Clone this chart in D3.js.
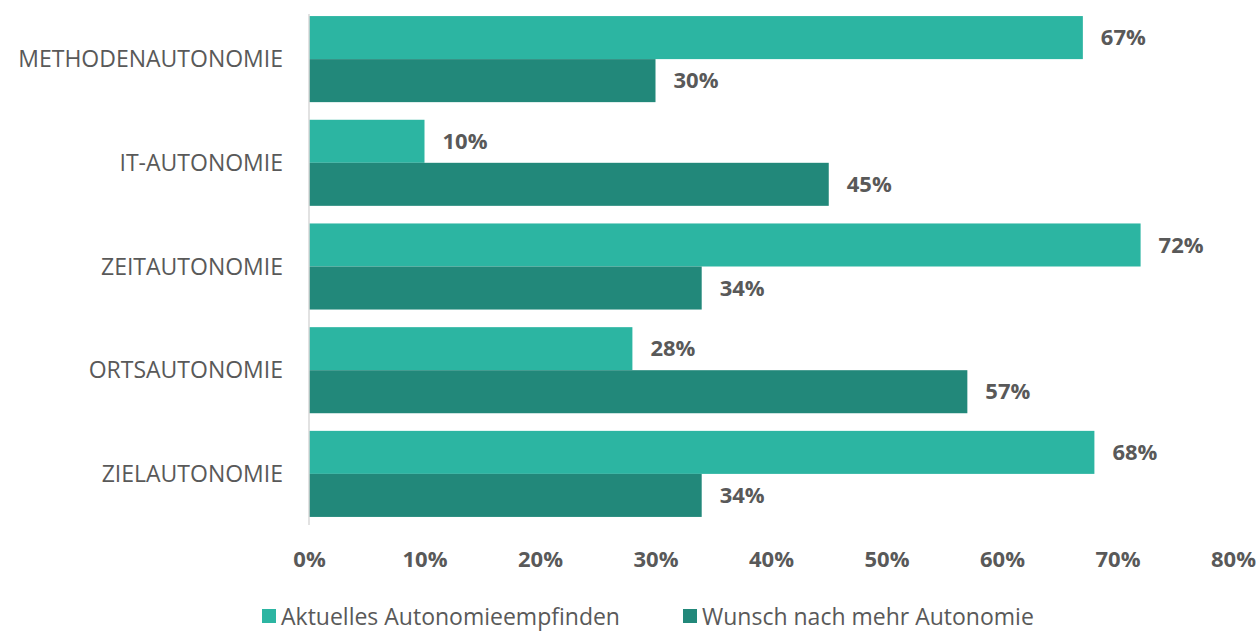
<!DOCTYPE html>
<html>
<head>
<meta charset="utf-8">
<script src="https://cdn.jsdelivr.net/npm/d3@7"></script>
<style>
  body { margin: 0; background: #fff; }
  text { font-family: "Open Sans", sans-serif; fill: #595959; }
</style>
</head>
<body>
<div id="chart"></div>
<script>
// data
const categories = ["METHODENAUTONOMIE", "IT-AUTONOMIE", "ZEITAUTONOMIE", "ORTSAUTONOMIE", "ZIELAUTONOMIE"];
const seriesNames = ["Aktuelles Autonomieempfinden", "Wunsch nach mehr Autonomie"];
const aktuell = [67, 10, 72, 28, 68];
const wunsch = [30, 45, 34, 57, 34];
const xTicks = [0, 10, 20, 30, 40, 50, 60, 70, 80];
const colors = ["#2cb5a2", "#22887a"];

let margin = {top: 14, right: 20, bottom: 113, left: 309},
    width = 1256 - margin.left - margin.right,
    height = 632 - margin.top - margin.bottom;

let svg = d3.select("#chart")
    .append("svg")
    .attr("width", 1256)
    .attr("height", 632)
    .append("g")
    .attr("transform", "translate(" + margin.left + "," + margin.top + ")");

let x = d3.scaleLinear().domain([0, 80]).range([0, 924]);
let y = d3.scaleBand().domain(categories).range([0, height]).paddingInner(0.17).paddingOuter(0.02);
let ySub = d3.scaleBand().domain([0, 1]).range([0, y.bandwidth()]);

let rows = categories.map(function(c, i) { return {cat: c, vals: [aktuell[i], wunsch[i]]}; });

let groups = svg.selectAll(".grp")
    .data(rows)
    .enter().append("g")
    .attr("transform", function(d) { return "translate(0," + y(d.cat) + ")"; });

groups.selectAll("rect")
    .data(function(d) { return d.vals; })
    .enter().append("rect")
    .attr("x", x(0))
    .attr("y", function(d, i) { return ySub(i); })
    .attr("width", function(d) { return x(d); })
    .attr("height", ySub.bandwidth())
    .attr("fill", function(d, i) { return colors[i]; });

groups.selectAll(".lbl")
    .data(function(d) { return d.vals; })
    .enter().append("text")
    .attr("x", function(d) { return x(d) + 18; })
    .attr("y", function(d, i) { return ySub(i) + ySub.bandwidth() / 2; })
    .attr("dy", "0.35em")
    .style("font-size", "22px")
    .style("font-weight", "bold")
    .text(function(d) { return d + "%"; });

// vertical axis line + category labels
svg.append("line")
    .attr("x1", 0).attr("x2", 0)
    .attr("y1", 0).attr("y2", height + 6)
    .attr("stroke", "#d9d9d9").attr("stroke-width", 1.5);

svg.selectAll(".cat")
    .data(categories)
    .enter().append("text")
    .attr("x", -26)
    .attr("y", function(d) { return y(d) + y.bandwidth() / 2; })
    .attr("dy", "0.35em")
    .attr("text-anchor", "end")
    .style("font-size", "23px")
    .text(function(d) { return d; });

// x axis
let xAxis = svg.append("g")
    .attr("transform", "translate(0," + (height + 6) + ")")
    .call(d3.axisBottom(x).tickValues(xTicks).tickSize(0).tickPadding(26).tickFormat(function(d) { return d + "%"; }));
xAxis.select(".domain").remove();
xAxis.selectAll("text")
    .style("font-family", "Open Sans, sans-serif")
    .style("font-size", "22px")
    .style("font-weight", "bold")
    .attr("fill", "#595959");

// legend
let legend = d3.select("svg").append("g").attr("transform", "translate(262,617)");
let legendX = [0, 421];
seriesNames.forEach(function(name, i) {
    legend.append("rect")
        .attr("x", legendX[i]).attr("y", -8)
        .attr("width", 14).attr("height", 14)
        .attr("fill", colors[i]);
    legend.append("text")
        .attr("x", legendX[i] + 19).attr("y", 0)
        .attr("dy", "0.35em")
        .style("font-size", "23px")
        .text(name);
});
</script>
</body>
</html>
